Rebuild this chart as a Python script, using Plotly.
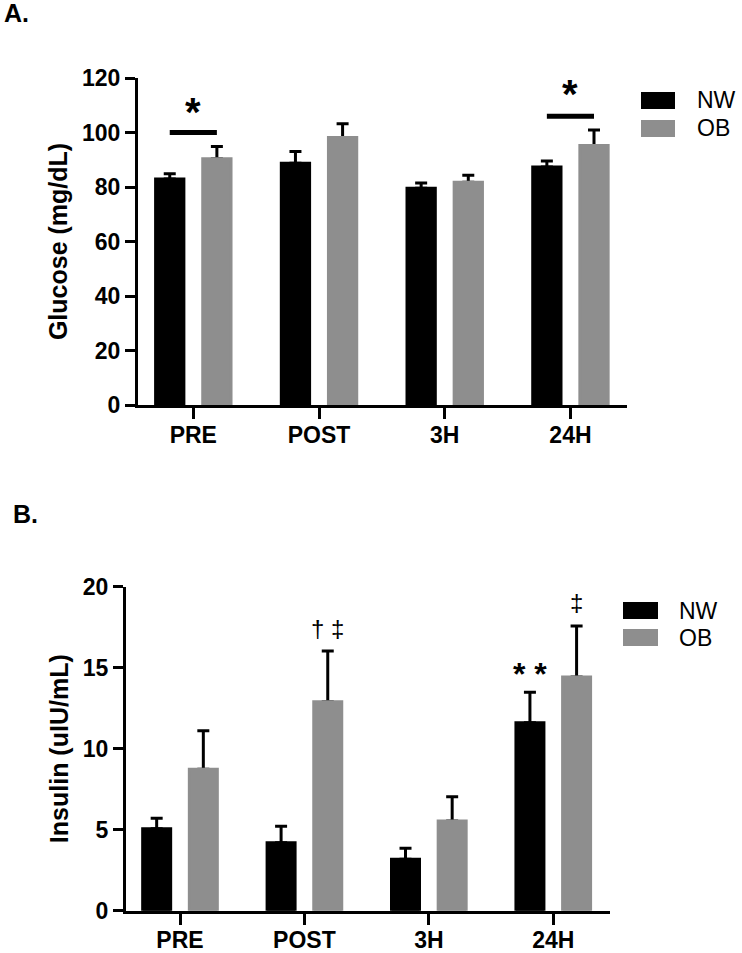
import plotly.graph_objects as go

# ---------------- data ----------------
categories = ["PRE", "POST", "3H", "24H"]
groups = ["NW", "OB"]

glucose_nw = [82.9, 88.7, 79.5, 87.3]
glucose_nw_sem = [2.0, 4.3, 2.0, 2.2]
glucose_ob = [90.4, 98.2, 81.7, 95.2]
glucose_ob_sem = [4.5, 5.0, 2.6, 5.7]

insulin_nw = [5.06, 4.2, 3.17, 11.6]
insulin_nw_sem = [0.64, 1.01, 0.68, 1.88]
insulin_ob = [8.73, 12.9, 5.54, 14.43]
insulin_ob_sem = [2.38, 3.13, 1.5, 3.14]

glucose_ticks = [0, 20, 40, 60, 80, 100, 120]
insulin_ticks = [0, 5, 10, 15, 20]

# significance brackets for glucose: (category, bracket level, star level)
glucose_sig = [("PRE", 100, 107.5), ("24H", 106, 114)]
# insulin symbols: (category, group, y, text)
insulin_marks = [("POST", "OB", 17.4, "† ‡"), ("24H", "NW", 14.6, "* *"), ("24H", "OB", 19.0, "‡")]

colors = {"NW": "#000000", "OB": "#8e8e8e"}

W, H = 742, 953
FONT = "Arial, Liberation Sans, sans-serif"
BARGAP = 0.25
BARGROUPGAP = 0.40
EDGE = 3  # bar outline in the bar's own colour (hides the error-bar foot)


def px(x):
    return x / W


def py(y):
    return 1 - y / H


fig = go.Figure()

panels = [
    (glucose_nw, glucose_nw_sem, glucose_ob, glucose_ob_sem, "x", "y", "y3"),
    (insulin_nw, insulin_nw_sem, insulin_ob, insulin_ob_sem, "x2", "y2", "y4"),
]
for nw, nw_e, ob, ob_e, xa, ya, ya_top in panels:
    # error bars (drawn underneath, on the base axis, with invisible bars)
    for name, vals, errs in (("NW", nw, nw_e), ("OB", ob, ob_e)):
        fig.add_trace(go.Bar(
            x=categories, y=vals, name=name, xaxis=xa, yaxis=ya,
            offsetgroup=name, showlegend=False, hoverinfo="skip",
            marker=dict(color="rgba(0,0,0,0)", line=dict(width=0)),
            error_y=dict(type="data", array=errs, arrayminus=[0] * len(errs),
                         symmetric=False, color="black", thickness=3, width=6),
        ))
    # visible bars on an overlaying axis, drawn on top
    for name, vals in (("NW", nw), ("OB", ob)):
        fig.add_trace(go.Bar(
            x=categories, y=vals, name=name, xaxis=xa, yaxis=ya_top,
            offsetgroup=name, showlegend=False,
            marker=dict(color=colors[name], line=dict(width=EDGE, color=colors[name])),
        ))

axis_common = dict(showline=True, linewidth=3, linecolor="black", ticks="outside",
                   tickwidth=3, tickcolor="black", showgrid=False,
                   zeroline=False, mirror=False, automargin=False)

fig.update_layout(
    template="none",
    width=W, height=H, margin=dict(l=0, r=0, t=0, b=0, autoexpand=False),
    paper_bgcolor="white", plot_bgcolor="rgba(0,0,0,0)",
    barmode="group", bargap=BARGAP, bargroupgap=BARGROUPGAP,
    font=dict(family=FONT, color="black"),
    xaxis=dict(domain=[px(138), px(627)], anchor="y", range=[-0.44, 3.45],
               tickfont=dict(size=23, weight="bold"), ticklen=11, ticklabelstandoff=-4,
               **axis_common),
    yaxis=dict(domain=[py(405), py(78)], anchor="x", range=[0, 120],
               tickvals=glucose_ticks, tickfont=dict(size=23, weight="bold"), ticklen=10,
               title=dict(text="Glucose (mg/dL)", font=dict(size=25, weight="bold"), standoff=8),
               **axis_common),
    yaxis3=dict(overlaying="y", range=[0, 120], visible=False, anchor="x"),
    xaxis2=dict(domain=[px(126), px(610)], anchor="y2", range=[-0.434, 3.456],
                tickfont=dict(size=23, weight="bold"), ticklen=11, ticklabelstandoff=-4,
                **axis_common),
    yaxis2=dict(domain=[py(910.7), py(586.7)], anchor="x2", range=[0, 20],
                tickvals=insulin_ticks, tickfont=dict(size=23, weight="bold"), ticklen=10,
                title=dict(text="Insulin (uIU/mL)", font=dict(size=25, weight="bold"), standoff=8),
                **axis_common),
    yaxis4=dict(overlaying="y2", range=[0, 20], visible=False, anchor="x2"),
)

offset = (1 - BARGAP) / 4
shapes = []
annotations = []
for cat, level, star in glucose_sig:
    i = categories.index(cat)
    shapes.append(dict(type="line", xref="x", yref="y", x0=i - offset, x1=i + offset,
                       y0=level, y1=level, line=dict(color="black", width=5)))
    annotations.append(dict(xref="x", yref="y", x=i, y=star, text="<b>*</b>", showarrow=False,
                            font=dict(size=40, family=FONT), yanchor="middle"))

for cat, grp, yv, txt in insulin_marks:
    i = categories.index(cat) + (-offset if grp == "NW" else offset)
    bold = txt.startswith("*")
    annotations.append(dict(xref="x2", yref="y2", x=i, y=yv,
                            text=f"<b>{txt}</b>" if bold else txt, showarrow=False,
                            font=dict(size=32 if bold else 24, family=FONT), yanchor="middle"))

# panel labels
annotations.append(dict(xref="paper", yref="paper", x=px(2), y=py(13), text="<b>A.</b>",
                        showarrow=False, xanchor="left", yanchor="middle", font=dict(size=25, family=FONT)))
annotations.append(dict(xref="paper", yref="paper", x=px(11), y=py(514), text="<b>B.</b>",
                        showarrow=False, xanchor="left", yanchor="middle", font=dict(size=25, family=FONT)))

# legends (drawn manually so the swatches match the reference size)
legend_boxes = [
    (641, 675, 92, 109, 120, 137, 695),
    (623, 658, 602, 619, 629, 646, 677),
]
for x0, x1, a0, a1, b0, b1, tx in legend_boxes:
    for name, (y0, y1) in zip(groups, ((a0, a1), (b0, b1))):
        shapes.append(dict(type="rect", xref="paper", yref="paper", x0=px(x0), x1=px(x1),
                           y0=py(y1), y1=py(y0), fillcolor=colors[name], line=dict(width=0)))
        annotations.append(dict(xref="paper", yref="paper", x=px(tx), y=py((y0 + y1) / 2), text=name,
                                showarrow=False, xanchor="left", yanchor="middle",
                                font=dict(size=23, family=FONT)))

fig.update_layout(shapes=shapes, annotations=annotations)
fig.write_html("out.html", config={"displayModeBar": False},
               post_script="document.body.style.margin='0';")
